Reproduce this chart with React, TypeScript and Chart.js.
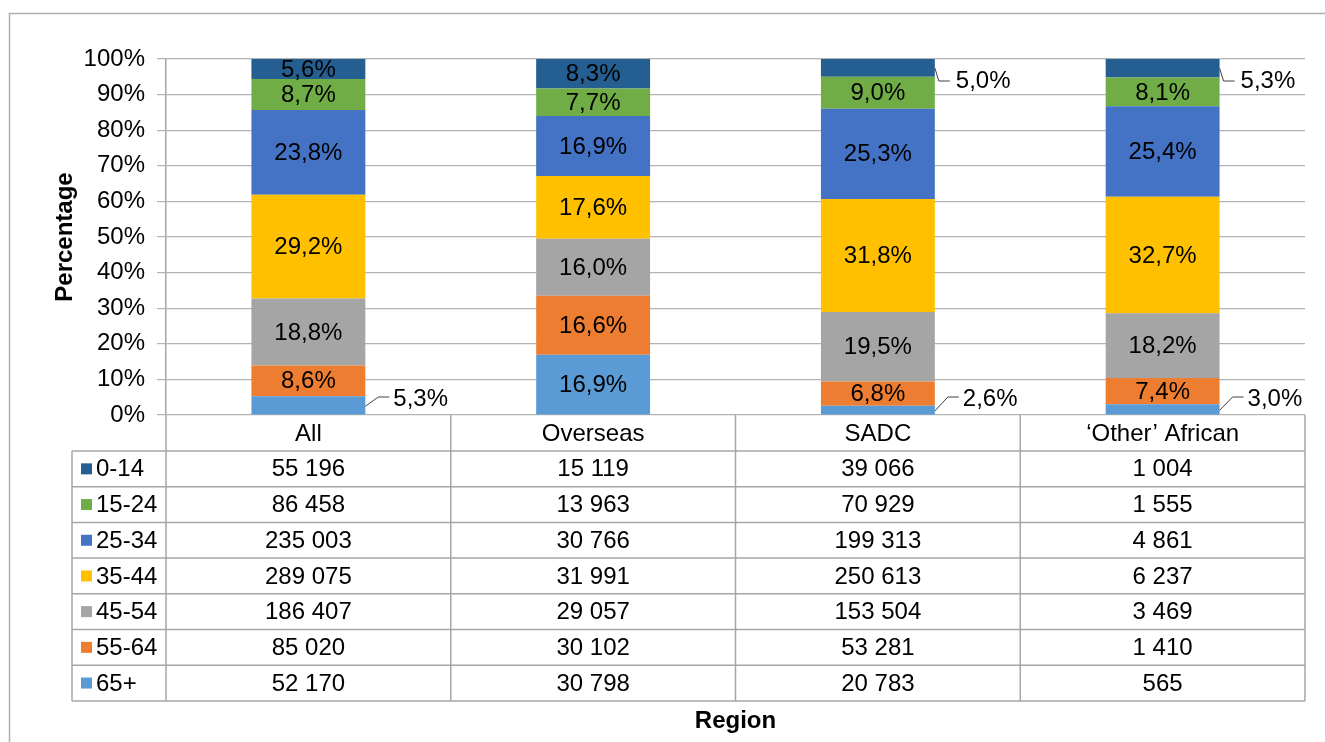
import React, { useEffect, useRef } from "react";
import { Chart, registerables } from "chart.js";

Chart.register(...registerables);

// ---------- data ----------
const categories = ["All", "Overseas", "SADC", "\u2018Other\u2019 African"];
const ageGroups = ["0-14", "15-24", "25-34", "35-44", "45-54", "55-64", "65+"];
const ageColors = ["#255E91", "#70AD47", "#4472C4", "#FFC000", "#A5A5A5", "#ED7D31", "#5B9BD5"];

// percentage shares per age group, across categories
const pct0to14 = [5.6, 8.3, 5.0, 5.3];
const pct15to24 = [8.7, 7.7, 9.0, 8.1];
const pct25to34 = [23.8, 16.9, 25.3, 25.4];
const pct35to44 = [29.2, 17.6, 31.8, 32.7];
const pct45to54 = [18.8, 16.0, 19.5, 18.2];
const pct55to64 = [8.6, 16.6, 6.8, 7.4];
const pct65plus = [5.3, 16.9, 2.6, 3.0];

// absolute counts per age group (data table)
const cnt0to14 = [55196, 15119, 39066, 1004];
const cnt15to24 = [86458, 13963, 70929, 1555];
const cnt25to34 = [235003, 30766, 199313, 4861];
const cnt35to44 = [289075, 31991, 250613, 6237];
const cnt45to54 = [186407, 29057, 153504, 3469];
const cnt55to64 = [85020, 30102, 53281, 1410];
const cnt65plus = [52170, 30798, 20783, 565];

const yTickStep = 10;
const yMax = 100;

const pctByAge = [pct0to14, pct15to24, pct25to34, pct35to44, pct45to54, pct55to64, pct65plus];
const cntByAge = [cnt0to14, cnt15to24, cnt25to34, cnt35to44, cnt45to54, cnt55to64, cnt65plus];

// labels placed outside the bar with a leader line
const outsideTop = ["0-14|2", "0-14|3"];
const outsideBottom = ["65+|0", "65+|2", "65+|3"];

const FONT = "'Liberation Sans', Arial, Helvetica, sans-serif";
const FS = 24;
const fmtPct = (v: number) => v.toFixed(1).replace(".", ",") + "%";
const fmtCnt = (v: number) => String(v).replace(/\B(?=(\d{3})+(?!\d))/g, " ");

const tablePlugin = {
  id: "tablePlugin",
  beforeDraw(chart: any) {
    const ctx = chart.ctx;
    ctx.save();
    ctx.fillStyle = "#ffffff";
    ctx.fillRect(0, 0, chart.width, chart.height);
    ctx.strokeStyle = "#b0b0b0";
    ctx.lineWidth = 1.5;
    ctx.strokeRect(9.5, 13.5, chart.width + 20, chart.height + 40);
    ctx.restore();
  },
  afterDatasetsDraw(chart: any) {
    const ctx = chart.ctx;
    const area = chart.chartArea;
    const xs = chart.scales.x;
    ctx.save();
    ctx.font = `${FS}px ${FONT}`;
    ctx.fillStyle = "#000";

    // data labels
    chart.data.datasets.forEach((ds: any, d: number) => {
      const meta = chart.getDatasetMeta(d);
      meta.data.forEach((bar: any, i: number) => {
        const v = ds.data[i];
        const text = fmtPct(v);
        const key = ds.label + "|" + i;
        const top = Math.max(bar.y, area.top);
        const mid = (top + bar.base) / 2;
        const right = bar.x + bar.width / 2;
        if (outsideTop.includes(key)) {
          const ly = area.top + 22;
          ctx.strokeStyle = "#404040";
          ctx.lineWidth = 1;
          ctx.beginPath();
          ctx.moveTo(right, mid);
          ctx.lineTo(right + 4, ly);
          ctx.lineTo(right + 15, ly);
          ctx.stroke();
          ctx.textAlign = "left";
          ctx.textBaseline = "middle";
          ctx.fillText(text, right + 21, ly);
        } else if (outsideBottom.includes(key)) {
          const ly = area.bottom - 16;
          ctx.strokeStyle = "#404040";
          ctx.lineWidth = 1;
          ctx.beginPath();
          ctx.moveTo(right, mid + 1);
          ctx.lineTo(right + 13, ly - 2);
          ctx.lineTo(right + 24, ly - 2);
          ctx.stroke();
          ctx.textAlign = "left";
          ctx.textBaseline = "middle";
          ctx.fillText(text, right + 28, ly);
        } else {
          ctx.textAlign = "center";
          ctx.textBaseline = "middle";
          ctx.fillText(text, bar.x, mid + 1);
        }
      });
    });

    // data table
    const headerH = 36;
    const rowH = 35.7;
    const tableLeft = 72;
    const top = area.bottom;
    const rowsTop = top + headerH;
    const bottom = rowsTop + rowH * ageGroups.length;
    const n = categories.length;
    const bounds: number[] = [area.left];
    for (let i = 0; i < n - 1; i++) {
      bounds.push((xs.getPixelForValue(i) + xs.getPixelForValue(i + 1)) / 2);
    }
    bounds.push(area.right);

    ctx.strokeStyle = "#a6a6a6";
    ctx.lineWidth = 1.5;
    ctx.beginPath();
    bounds.forEach((bx) => {
      ctx.moveTo(bx, top);
      ctx.lineTo(bx, bottom);
    });
    ctx.moveTo(tableLeft, rowsTop);
    ctx.lineTo(tableLeft, bottom);
    for (let r = 0; r <= ageGroups.length; r++) {
      const y = rowsTop + r * rowH;
      ctx.moveTo(tableLeft, y);
      ctx.lineTo(area.right, y);
    }
    ctx.stroke();

    ctx.fillStyle = "#000";
    ctx.textBaseline = "middle";
    ctx.textAlign = "center";
    categories.forEach((c, i) => {
      ctx.fillText(c, xs.getPixelForValue(i), top + headerH / 2 + 1);
    });
    ageGroups.forEach((g, r) => {
      const cy = rowsTop + rowH * (r + 0.5);
      ctx.fillStyle = ageColors[r];
      ctx.fillRect(81, cy - 5.5, 11, 11);
      ctx.fillStyle = "#000";
      ctx.textAlign = "left";
      ctx.fillText(g, 96, cy + 1);
      ctx.textAlign = "center";
      cntByAge[r].forEach((v, i) => {
        ctx.fillText(fmtCnt(v), xs.getPixelForValue(i), cy + 1);
      });
    });

    // axis titles
    ctx.font = `bold ${FS}px ${FONT}`;
    ctx.textAlign = "center";
    ctx.textBaseline = "middle";
    ctx.fillText("Region", (area.left + area.right) / 2, 721);
    ctx.save();
    ctx.translate(65, (area.top + area.bottom) / 2);
    ctx.rotate(-Math.PI / 2);
    ctx.fillText("Percentage", 0, 0);
    ctx.restore();

    ctx.restore();
  },
};

export default function App() {
  const canvasRef = useRef<HTMLCanvasElement | null>(null);

  useEffect(() => {
    if (!canvasRef.current) return;
    Chart.defaults.font.family = FONT;
    const order = [6, 5, 4, 3, 2, 1, 0];
    const datasets = order.map((k) => ({
      label: ageGroups[k],
      data: pctByAge[k],
      backgroundColor: ageColors[k],
      borderWidth: 0,
      barPercentage: 0.4,
      categoryPercentage: 1.0,
    }));
    const chart = new Chart(canvasRef.current, {
      type: "bar",
      data: { labels: categories, datasets },
      options: {
        responsive: false,
        animation: false,
        layout: { padding: { left: 0, right: 20, top: 59, bottom: 327 } },
        plugins: { legend: { display: false }, tooltip: { enabled: false }, title: { display: false } },
        scales: {
          x: { stacked: true, display: false },
          y: {
            stacked: true,
            min: 0,
            max: yMax,
            afterFit: (scale: any) => {
              scale.width = 166;
            },
            ticks: {
              stepSize: yTickStep,
              padding: 12,
              color: "#000",
              font: { size: FS, family: FONT },
              callback: (v: any) => `${v}%`,
            },
            grid: { color: "#b3b3b3", lineWidth: 1.2, tickLength: 9 },
            border: { display: true, color: "#a6a6a6", width: 1.5 },
          },
        },
      },
      plugins: [tablePlugin],
    });
    return () => chart.destroy();
  }, []);

  return (
    <div style={{ position: "absolute", left: 0, top: 0, width: 1325, height: 742, background: "#fff" }}>
      <canvas ref={canvasRef} width={1325} height={742} style={{ display: "block" }} />
    </div>
  );
}
